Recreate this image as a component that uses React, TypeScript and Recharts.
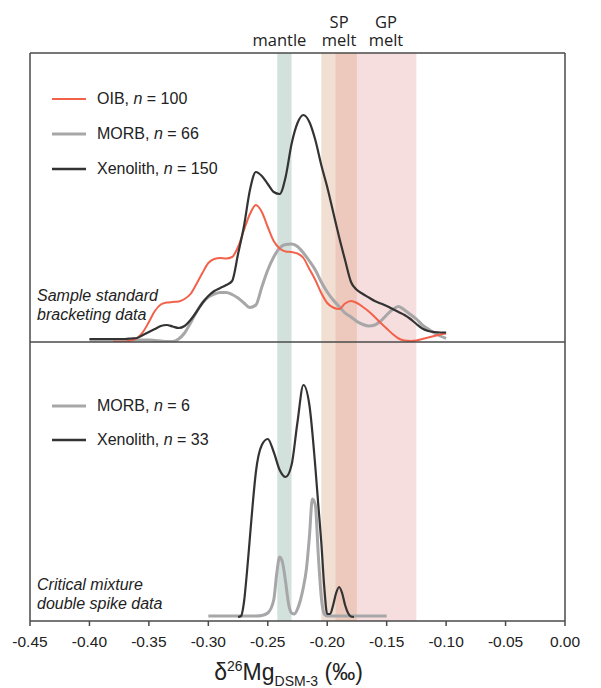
import React from 'react';
import { LineChart, Line, XAxis, YAxis, ReferenceArea, ReferenceLine, Legend } from 'recharts';

const SANS = '"Liberation Sans", Arial, Helvetica, sans-serif';
const BAND_FONT = '"Open Sans", "Liberation Sans", sans-serif';

// δ26Mg grid (‰) of the sample-standard bracketing density curves
const sbGrid = [
  -0.4, -0.395, -0.39, -0.385, -0.38, -0.375, -0.37, -0.365, -0.36, -0.355,
  -0.35, -0.345, -0.34, -0.335, -0.33, -0.325, -0.32, -0.315, -0.31, -0.305,
  -0.3, -0.295, -0.29, -0.285, -0.28, -0.275, -0.27, -0.265, -0.26, -0.255,
  -0.25, -0.245, -0.24, -0.235, -0.23, -0.225, -0.22, -0.215, -0.21, -0.205,
  -0.2, -0.195, -0.19, -0.185, -0.18, -0.175, -0.17, -0.165, -0.16, -0.155,
  -0.15, -0.145, -0.14, -0.135, -0.13, -0.125, -0.12, -0.115, -0.11, -0.105, -0.1,
];

// relative probability density (arbitrary units)
const sbOib = [
  null, null, null, null, 0.5, 0.3, 0.3, 1.5, 4, 10,
  20, 31, 37.5, 39.5, 40, 40.5, 43, 48, 58, 69,
  79, 83, 84, 83.5, 85, 95, 112, 128, 137, 130,
  115, 101, 93.5, 90.5, 90, 88.5, 84, 73, 62, 49,
  39, 34.5, 33, 38.5, 41, 39, 35, 30.5, 25, 19,
  13.5, 8, 3.5, 1.5, 1, 1.5, 3, 4.5, 6, 7.5, 8.5,
];
const sbMorb = [
  2, 2, 2, 2, 2, 2, 2, 2, 2, 2,
  2, 1.5, 1, 0.5, 0.5, 3, 9, 19, 30, 39,
  45, 48, 49.5, 49.5, 47.5, 44, 39, 34.5, 37, 55,
  72, 85, 94, 97.5, 98, 95.5, 89, 81, 72, 60,
  50, 42, 35.5, 29, 25, 20.5, 17.5, 16, 17, 21,
  27, 32.5, 35.5, 32, 27.5, 23, 17, 13, 9, 6, 3.7,
];
const sbXenolith = [
  3, 3, 3, 3, 3, 3, 3, 3.5, 4, 7,
  10, 13, 16, 17, 15.5, 14, 16, 22, 30, 39,
  46, 51, 54, 57, 61, 88, 116, 152, 170, 166,
  158, 150, 148, 165, 198, 219, 227, 220, 202, 177,
  155, 130, 105, 82, 60, 52, 48, 44.5, 41, 38.5,
  36, 33, 30, 27, 23, 18, 13.5, 11, 10, 9.5, 9.5,
];

// critical mixture double spike density curves
const dsMorbX = [
  -0.3, -0.28, -0.26, -0.255, -0.25, -0.245, -0.2425, -0.24, -0.2375, -0.235,
  -0.2325, -0.23, -0.2275, -0.225, -0.2225, -0.22, -0.2175, -0.215, -0.2125, -0.21,
  -0.2075, -0.205, -0.2025, -0.2, -0.19, -0.17, -0.15,
];
const dsMorbY = [
  1, 1, 1, 1.5, 4, 17, 43, 60, 54, 35,
  13, 4, 3, 8, 17, 30, 48, 80, 118, 112,
  62, 20, 3, 1, 1, 1, 1,
];
const dsXenolithX = [
  -0.275, -0.2725, -0.27, -0.2675, -0.265, -0.2625, -0.26, -0.255, -0.25, -0.245,
  -0.24, -0.235, -0.23, -0.225, -0.22, -0.215, -0.21, -0.2075, -0.205, -0.2025,
  -0.2, -0.1975, -0.195, -0.1925, -0.19, -0.1875, -0.185, -0.1825, -0.18, -0.1775,
];
const dsXenolithY = [
  0, 1, 15, 45, 80, 115, 145, 172, 178, 165,
  147, 140, 152, 195, 232, 212, 150, 112, 75, 30,
  3, 3, 12, 24, 30, 24, 12, 4, 0.5, 0,
];

const sbCounts: Record<string, number> = { OIB: 100, MORB: 66, Xenolith: 150 };
const dsCounts: Record<string, number> = { MORB: 6, Xenolith: 33 };
const legendOrder = ['OIB', 'MORB', 'Xenolith'];

const topTicks = [-0.4, -0.35, -0.3, -0.25, -0.2, -0.15, -0.1];
const bottomTicks = [-0.45, -0.4, -0.35, -0.3, -0.25, -0.2, -0.15, -0.1, -0.05, 0];
const xDomain = [-0.45, 0];

// reference ranges (‰)
const mantleRange = [-0.242, -0.23];
const spMeltRange = [-0.205, -0.175];
const gpMeltRange = [-0.193, -0.125];

const SERIES: Record<string, { color: string; width: number; legendWidth: number }> = {
  OIB: { color: '#f2614a', width: 2, legendWidth: 2.2 },
  MORB: { color: '#a7a7a9', width: 3, legendWidth: 3.2 },
  Xenolith: { color: '#333333', width: 2.2, legendWidth: 2.4 },
};

const FRAME = '#4a4a4a';

const sbData = sbGrid.map((x, i) => ({ x, oib: sbOib[i], morb: sbMorb[i], xen: sbXenolith[i] }));
const dsMorbData = dsMorbX.map((x, i) => ({ x, y: dsMorbY[i] }));
const dsXenolithData = dsXenolithX.map((x, i) => ({ x, y: dsXenolithY[i] }));

const bandLabel = (lines: string[], dx: number) => (props: any) => {
  const vb = props.viewBox || {};
  const cx = vb.x + vb.width / 2 + dx;
  return (
    <text textAnchor="middle" fontFamily={BAND_FONT} fontSize={16.5} fill="#222">
      {lines.map((t, i) => (
        <tspan key={i} x={cx} y={vb.y - 7 - (lines.length - 1 - i) * 18}>
          {t}
        </tspan>
      ))}
    </text>
  );
};

const makeLegend = (counts: Record<string, number>, rowH: number) => (props: any) => {
  const items = [...(props.payload || [])].sort(
    (a: any, b: any) => legendOrder.indexOf(a.value) - legendOrder.indexOf(b.value)
  );
  return (
    <div>
      {items.map((it: any) => {
        const st = SERIES[it.value];
        return (
          <div key={it.value} style={{ display: 'flex', alignItems: 'center', height: rowH }}>
            <svg width={34} height={6} style={{ marginRight: 11, display: 'block' }}>
              <line x1={0} y1={3} x2={34} y2={3} stroke={st.color} strokeWidth={st.legendWidth} />
            </svg>
            <span style={{ fontFamily: SANS, fontSize: 16, color: '#222', lineHeight: '16px', whiteSpace: 'nowrap' }}>
              {it.value}, <i>n</i> = {counts[it.value]}
            </span>
          </div>
        );
      })}
    </div>
  );
};

const axisTitle = (props: any) => {
  const vb = props.viewBox || {};
  const cx = vb.x + vb.width / 2 - 9;
  const y = vb.y + 59;
  return (
    <text x={cx} y={y} textAnchor="middle" fontFamily={SANS} fontSize={23} fill="#222">
      <tspan>δ</tspan>
      <tspan fontSize={14} dy={-9}>26</tspan>
      <tspan dy={9}>Mg</tspan>
      <tspan fontSize={14} dy={6}>DSM-3</tspan>
      <tspan dy={-6}> (‰)</tspan>
    </text>
  );
};

const bands = (withLabels: boolean) => [
  <ReferenceArea
    key="gp"
    x1={gpMeltRange[0]}
    x2={gpMeltRange[1]}
    fill="#eeb5b5"
    fillOpacity={0.45}
    stroke="none"
    label={withLabels ? { content: bandLabel(['GP', 'melt'], 10) } : undefined}
  />,
  <ReferenceArea
    key="sp"
    x1={spMeltRange[0]}
    x2={spMeltRange[1]}
    fill="#d9a282"
    fillOpacity={0.35}
    stroke="none"
    label={withLabels ? { content: bandLabel(['SP', 'melt'], 0) } : undefined}
  />,
  <ReferenceArea
    key="mantle"
    x1={mantleRange[0]}
    x2={mantleRange[1]}
    fill="#d3e1dc"
    fillOpacity={1}
    stroke="none"
    label={withLabels ? { content: bandLabel(['mantle'], -5) } : undefined}
  />,
];

const noteStyle: React.CSSProperties = {
  position: 'absolute',
  left: 37,
  fontFamily: SANS,
  fontStyle: 'italic',
  fontSize: 16,
  lineHeight: '19px',
  color: '#222',
  whiteSpace: 'nowrap',
  zIndex: 3,
};

export default function App() {
  return (
    <div style={{ position: 'absolute', left: 0, top: 0, width: 601, height: 688, background: '#fff' }}>
      <div style={{ position: 'absolute', left: 0, top: 0, zIndex: 2 }}>
        <LineChart width={601} height={348} data={sbData} margin={{ top: 53, right: 36, bottom: 0, left: 30 }}>
          {bands(true)}
          <XAxis
            dataKey="x"
            type="number"
            domain={xDomain}
            ticks={topTicks}
            tick={false}
            tickSize={5}
            height={6}
            allowDataOverflow
            axisLine={{ stroke: FRAME, strokeWidth: 1.5 }}
            tickLine={{ stroke: FRAME, strokeWidth: 1.5 }}
          />
          <YAxis hide domain={[0, 289]} allowDataOverflow />
          <ReferenceLine y={289} stroke={FRAME} strokeWidth={1.5} />
          <ReferenceLine x={-0.45} stroke={FRAME} strokeWidth={1.5} />
          <ReferenceLine x={0} stroke={FRAME} strokeWidth={1.5} />
          <Line type="monotone" dataKey="morb" name="MORB" stroke={SERIES.MORB.color} strokeWidth={SERIES.MORB.width} dot={false} activeDot={false} isAnimationActive={false} />
          <Line type="monotone" dataKey="oib" name="OIB" stroke={SERIES.OIB.color} strokeWidth={SERIES.OIB.width} dot={false} activeDot={false} isAnimationActive={false} />
          <Line type="monotone" dataKey="xen" name="Xenolith" stroke={SERIES.Xenolith.color} strokeWidth={SERIES.Xenolith.width} dot={false} activeDot={false} isAnimationActive={false} />
          <Legend
            layout="vertical"
            align="center"
            verticalAlign="middle"
            content={makeLegend(sbCounts, 35)}
            wrapperStyle={{ left: 52, top: 81.5, width: 230 }}
          />
        </LineChart>
      </div>
      <div style={{ position: 'absolute', left: 0, top: 342, zIndex: 1 }}>
        <LineChart width={601} height={346} margin={{ top: 0, right: 36, bottom: 0, left: 30 }}>
          {bands(false)}
          <XAxis
            dataKey="x"
            type="number"
            domain={xDomain}
            ticks={bottomTicks}
            tickFormatter={(v: number) => v.toFixed(2)}
            tick={{ fontFamily: SANS, fontSize: 15.5, fill: '#222' }}
            tickSize={5}
            tickMargin={10}
            height={67}
            allowDataOverflow
            axisLine={{ stroke: FRAME, strokeWidth: 1.5 }}
            tickLine={{ stroke: FRAME, strokeWidth: 1.5 }}
            label={{ content: axisTitle }}
          />
          <YAxis hide domain={[-4, 275]} allowDataOverflow />
          <ReferenceLine x={-0.45} stroke={FRAME} strokeWidth={1.5} />
          <ReferenceLine x={0} stroke={FRAME} strokeWidth={1.5} />
          <Line data={dsMorbData} type="monotone" dataKey="y" name="MORB" stroke={SERIES.MORB.color} strokeWidth={SERIES.MORB.width} dot={false} activeDot={false} isAnimationActive={false} />
          <Line data={dsXenolithData} type="monotone" dataKey="y" name="Xenolith" stroke={SERIES.Xenolith.color} strokeWidth={SERIES.Xenolith.width} dot={false} activeDot={false} isAnimationActive={false} />
          <Legend
            layout="vertical"
            align="center"
            verticalAlign="middle"
            content={makeLegend(dsCounts, 34)}
            wrapperStyle={{ left: 52, top: 47, width: 230 }}
          />
        </LineChart>
      </div>
      <div style={{ ...noteStyle, top: 286 }}>
        Sample standard
        <br />
        bracketing data
      </div>
      <div style={{ ...noteStyle, top: 574.5 }}>
        Critical mixture
        <br />
        double spike data
      </div>
    </div>
  );
}
